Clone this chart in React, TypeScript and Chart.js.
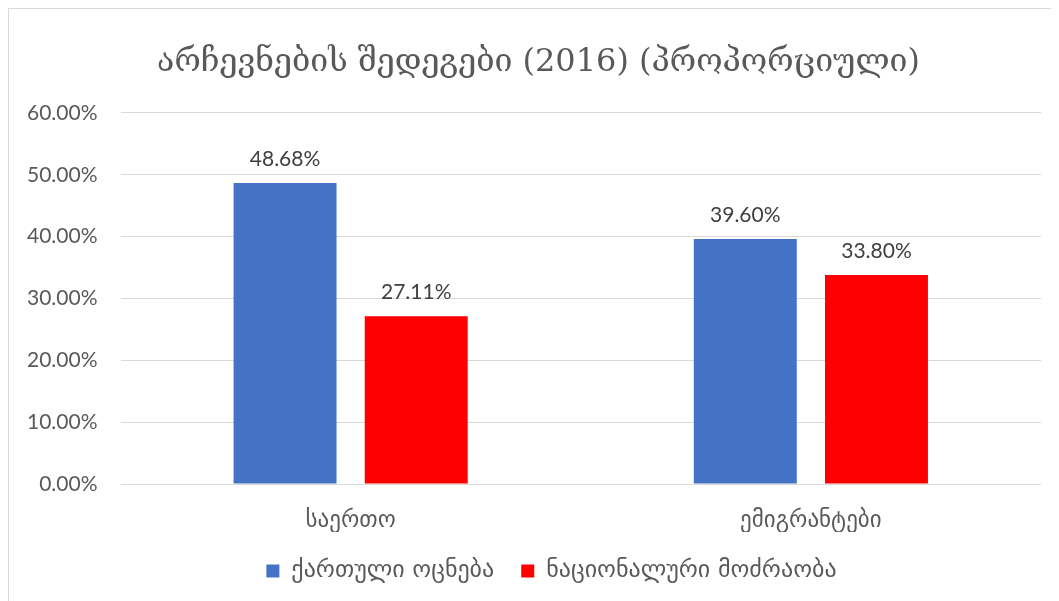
import React, { useEffect, useRef } from "react";
import { Chart, registerables } from "chart.js";

Chart.register(...registerables);

const categories = ["საერთო", "ემიგრანტები"];
const seriesNames = ["ქართული ოცნება", "ნაციონალური მოძრაობა"];
const dreamValues = [48.68, 39.6];
const unmValues = [27.11, 33.8];
const seriesColors = ["#4472C4", "#FF0000"];
const titleText = "არჩევნების შედეგები (2016) (პროპორციული)";

const labelFont = "Lato, 'DejaVu Sans', sans-serif";

const valueLabels = {
  id: "valueLabels",
  afterDatasetsDraw(chart: any) {
    const ctx = chart.ctx;
    ctx.save();
    ctx.fillStyle = "#404040";
    ctx.font = `21px ${labelFont}`;
    ctx.textAlign = "center";
    ctx.textBaseline = "alphabetic";
    chart.data.datasets.forEach((ds: any, i: number) => {
      const meta = chart.getDatasetMeta(i);
      meta.data.forEach((bar: any, j: number) => {
        ctx.fillText(ds.data[j].toFixed(2) + "%", bar.x, bar.y - 17);
      });
    });
    ctx.restore();
  },
};

// shift the full-width title and legend boxes to match the reference centring
const boxShift = {
  id: "boxShift",
  afterLayout(chart: any) {
    if (chart.titleBlock) {
      chart.titleBlock.left += 16;
      chart.titleBlock.right += 16;
    }
    if (chart.legend) {
      chart.legend.left += 29;
      chart.legend.right += 29;
    }
  },
};

export default function App() {
  const ref = useRef<HTMLCanvasElement>(null);
  useEffect(() => {
    const chart = new Chart(ref.current!, {
      type: "bar",
      data: {
        labels: categories,
        datasets: [
          { label: seriesNames[0], data: dreamValues, backgroundColor: seriesColors[0] },
          { label: seriesNames[1], data: unmValues, backgroundColor: seriesColors[1] },
        ],
      },
      options: {
        animation: false,
        responsive: false,
        maintainAspectRatio: false,
        layout: { padding: { left: -5, right: 18, top: 10, bottom: 8 } },
        datasets: { bar: { categoryPercentage: 0.57, barPercentage: 0.785 } },
        plugins: {
          title: {
            display: true,
            text: titleText,
            color: "#595959",
            font: { family: "'DejaVu Serif', serif", size: 32, weight: "normal" },
            padding: { top: 24, bottom: 31.5 },
          },
          legend: {
            position: "bottom",
            labels: {
              color: "#595959",
              font: { family: "'DejaVu Sans', sans-serif", size: 24 },
              boxWidth: 13,
              boxHeight: 13,
              padding: 27,
            },
          },
          tooltip: { enabled: false },
        },
        scales: {
          x: {
            grid: { display: false, drawTicks: false },
            border: { display: false },
            ticks: {
              color: "#595959",
              font: { family: "'DejaVu Sans', sans-serif", size: 23 },
              padding: 23,
            },
            afterFit: (scale: any) => {
              scale.height = 48;
            },
          },
          y: {
            min: 0,
            max: 60,
            ticks: {
              stepSize: 10,
              color: "#595959",
              font: { family: labelFont, size: 21 },
              padding: 23,
              callback: (v: any) => Number(v).toFixed(2) + "%",
            },
            grid: { color: "#D9D9D9", drawTicks: false },
            border: { display: false },
          },
        },
      },
      plugins: [valueLabels, boxShift],
    });
    return () => chart.destroy();
  }, []);
  return (
    <div
      style={{
        width: 1051,
        height: 593,
        borderLeft: "1px solid #D9D9D9",
        borderTop: "1px solid #D9D9D9",
        boxSizing: "border-box",
        background: "#fff",
        overflow: "hidden",
      }}
    >
      <canvas ref={ref} width={1050} height={592} style={{ display: "block" }} />
    </div>
  );
}
